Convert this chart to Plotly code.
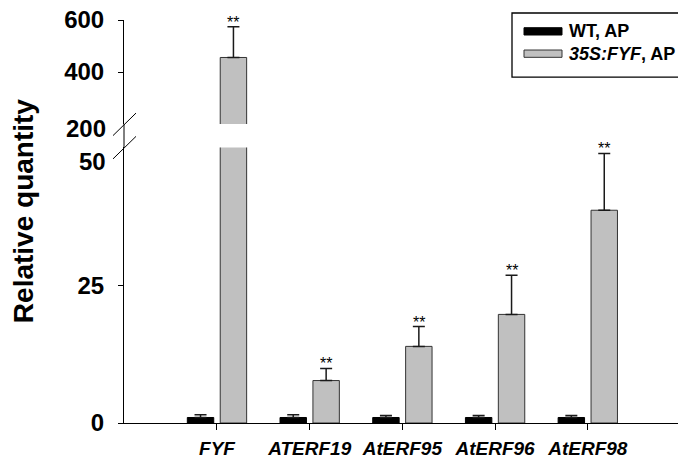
import plotly.graph_objects as go

# Relative expression (mean and upper error) for each gene
genes = ["FYF", "ATERF19", "AtERF95", "AtERF96", "AtERF98"]
wt_mean = [1.0, 1.0, 1.0, 1.0, 1.0]
wt_err = [0.5, 0.5, 0.35, 0.35, 0.35]
oe_mean = [456, 7.7, 13.9, 19.7, 38.6]
oe_err = [118, 2.2, 3.6, 7.1, 10.3]
signif = ["**", "**", "**", "**", "**"]
series_names = ["WT, AP", "<i>35S:FYF</i>, AP"]
series_colors = ["#000000", "#c0c0c0"]

# Broken y axis: lower segment 0-50, upper segment 200-600
lower_range = [0, 50]
upper_range = [200, 600]
lower_ticks = [0, 25]
upper_ticks = [400, 600]
break_labels = ["200", "50"]

FONT = "Arial, 'Liberation Sans', sans-serif"
W, H = 678, 459
LEFT, TOP, BASE = 124, 20, 422.7        # plot-area left edge, top edge, x-axis line (px)
PLOT_W, PLOT_H = W - LEFT, BASE - TOP
LOWER_TOP_PX, UPPER_BOT_PX = 147.3, 124.0


def px_x(px):
    return (px - LEFT) / PLOT_W


def px_y(py):
    return (BASE - py) / PLOT_H


lower_dom = [0, px_y(LOWER_TOP_PX)]
upper_dom = [px_y(UPPER_BOT_PX), 1]

bar_w = 0.285
offsets = [-0.32, 0.035]
xs = list(range(len(genes)))

fig = go.Figure()
for xa, ya in [("x", "y"), ("x2", "y2")]:
    for k, (vals, errs) in enumerate([(wt_mean, wt_err), (oe_mean, oe_err)]):
        fig.add_trace(go.Bar(
            x=xs, y=vals, xaxis=xa, yaxis=ya,
            width=bar_w, offset=offsets[k],
            marker=dict(color=series_colors[k],
                        line=dict(color="#000000" if k == 0 else "#333333", width=1)),
            error_y=dict(type="data", array=errs, arrayminus=[0] * len(errs),
                         symmetric=False, color="#1a1a1a", thickness=1.5, width=6),
            name=series_names[k], showlegend=False, hoverinfo="skip",
        ))

axis_common = dict(showgrid=False, zeroline=False, showline=True,
                   linecolor="#000000", linewidth=1, ticks="outside",
                   tickcolor="#000000", tickwidth=1, automargin=False)

fig.update_layout(
    width=W, height=H,
    margin=dict(l=LEFT, r=0, t=TOP, b=H - BASE, pad=0, autoexpand=False),
    paper_bgcolor="white", plot_bgcolor="white",
    barmode="overlay",
    font=dict(family=FONT, color="#000000"),
    xaxis=dict(axis_common, anchor="y", range=[-1.003, 4.973],
               tickvals=xs, ticktext=genes, ticklen=6,
               ticklabelstandoff=2,
               tickfont=dict(size=19, weight="bold", style="italic")),
    xaxis2=dict(anchor="y2", matches="x", visible=False, range=[-1.003, 4.973],
                automargin=False),
    yaxis=dict(axis_common, anchor="x", domain=lower_dom, range=lower_range,
               tickvals=lower_ticks, ticklen=5, ticklabelstandoff=9,
               tickfont=dict(size=24, weight="bold")),
    yaxis2=dict(axis_common, anchor="x2", domain=upper_dom, range=upper_range,
                tickvals=upper_ticks, ticklen=5, ticklabelstandoff=9,
                tickfont=dict(size=24, weight="bold")),
)

shapes = []
# axis line through the break
shapes.append(dict(type="line", xref="paper", yref="paper", x0=0, x1=0,
                   y0=px_y(LOWER_TOP_PX), y1=px_y(UPPER_BOT_PX),
                   line=dict(color="#000000", width=1)))
# break slashes
for cy in [UPPER_BOT_PX, LOWER_TOP_PX]:
    shapes.append(dict(type="line", xref="paper", yref="paper",
                       x0=px_x(LEFT - 11), y0=px_y(cy + 11.5),
                       x1=px_x(LEFT + 12), y1=px_y(cy - 11),
                       line=dict(color="#000000", width=1)))

# legend frame (runs off the right edge of the figure)
lx0, lx1, ly0, ly1 = px_x(512), px_x(720), px_y(77), px_y(13)
shapes.append(dict(type="path", xref="paper", yref="paper",
                   path=f"M {lx1},{ly1} L {lx0},{ly1} L {lx0},{ly0} L {lx1},{ly0}",
                   line=dict(color="#000000", width=1.3)))
sw_y = [(27.7, 35), (50, 57.3)]
for k in range(2):
    shapes.append(dict(type="rect", xref="paper", yref="paper",
                       x0=px_x(524), x1=px_x(562),
                       y0=px_y(sw_y[k][1]), y1=px_y(sw_y[k][0]),
                       fillcolor=series_colors[k],
                       line=dict(color="#000000" if k == 0 else "#333333", width=1)))
fig.update_layout(shapes=shapes)

annotations = []
# significance marks above each overexpression bar
for i in xs:
    top = oe_mean[i] + oe_err[i]
    annotations.append(dict(
        x=i + offsets[1] + bar_w / 2, y=top,
        xref="x2" if top > lower_range[1] else "x",
        yref="y2" if top > lower_range[1] else "y",
        text=signif[i], showarrow=False, yanchor="bottom", yshift=-6,
        font=dict(size=16, family=FONT, color="#000000")))

# labels at the break
for label, cy in zip(break_labels, [128, 161]):
    annotations.append(dict(
        x=0, y=px_y(cy), xref="paper", yref="paper", xanchor="right",
        yanchor="middle", xshift=-16, text=label, showarrow=False,
        font=dict(size=24, family=FONT, weight="bold", color="#000000")))

# y-axis title
annotations.append(dict(
    x=px_x(23), y=px_y(211), xref="paper", yref="paper",
    text="Relative quantity", textangle=-90, showarrow=False,
    xanchor="center", yanchor="middle",
    font=dict(size=28, family=FONT, weight="bold", color="#000000")))

# legend labels
for k, cy in enumerate([31, 54]):
    annotations.append(dict(
        x=px_x(567), y=px_y(cy), xref="paper", yref="paper",
        xanchor="left", yanchor="middle", text=series_names[k], showarrow=False,
        font=dict(size=18, family=FONT, weight="bold", color="#000000")))

fig.update_layout(annotations=annotations)

fig.write_html("out.html")
